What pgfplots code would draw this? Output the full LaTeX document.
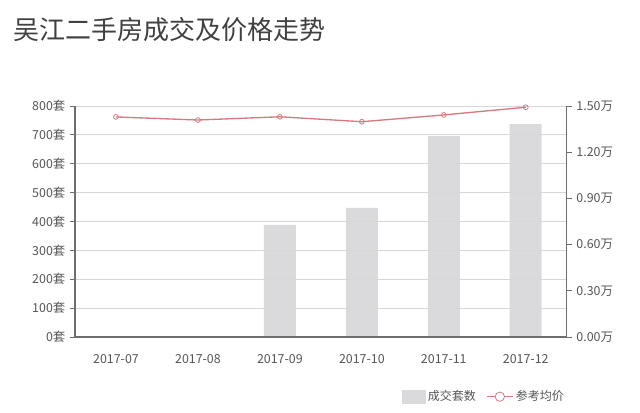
\documentclass[border=0pt]{standalone}
\usepackage{pgfplots}
\pgfplotsset{compat=1.18}
\usepackage{fontspec}
\setmainfont{Noto Sans CJK SC}
\definecolor{bargrey}{RGB}{218,217,219}
\definecolor{linered}{RGB}{214,122,130}
\definecolor{axisgrey}{RGB}{110,110,110}
\definecolor{labelgrey}{RGB}{85,85,85}
\definecolor{gridgrey}{RGB}{215,215,215}
\pgfplotsset{
    every axis/.append style={
        scale only axis,
        width=368.8pt,
        height=173.25pt,
        xmin=-0.5, xmax=5.5,
        axis line style={draw=axisgrey, line width=0.9pt},
        tick style={axisgrey, line width=0.7pt},
        tick align=outside,
        major tick length=3.75pt,
        tick label style={font=\fontsize{9.3}{10}\selectfont, text=labelgrey},
        /pgf/number format/assume math mode=true,
    },
}

\begin{document}
\begin{tikzpicture}
    \useasboundingbox (0,0) rectangle (480pt,309pt);
    \node[anchor=west, text=black!75, font=\fontsize{19.5}{21}\selectfont, inner sep=0pt]
        at (10pt,286.5pt) {吴江二手房成交及价格走势};
    % bars, left axis
    \begin{axis}[
        at={(56.25pt,56.25pt)}, anchor=south west,
        axis y line*=left,
        axis x line*=bottom,
        ymin=0, ymax=800,
        ytick={0,100,...,800},
        yticklabel={\pgfmathprintnumber{\tick}套},
        ymajorgrids,
        grid style={gridgrey, line width=0.6pt},
        xtick={0,...,5},
        xticklabels={2017-07,2017-08,2017-09,2017-10,2017-11,2017-12},
        x tick style={draw=none},
        xticklabel style={yshift=-6pt},
        extra x ticks={-0.5,0.5,...,5.5},
        extra x tick labels={},
        extra x tick style={tick style={draw=axisgrey}},
        axis on top,
        after end axis/.code={
            \draw[axisgrey, line width=1.4pt] (rel axis cs:0,0) -- (rel axis cs:0,1);
        },
    ]
        \addplot[ybar, bar width=24pt, fill=bargrey, draw=none] coordinates {
            (0,0) (1,0) (2,388) (3,447) (4,696) (5,737)
        };
    \end{axis}
    % average price, right axis
    \begin{axis}[
        at={(56.25pt,56.25pt)}, anchor=south west,
        axis x line=none,
        axis y line*=right,
        ymin=0, ymax=1.5,
        ytick={0,0.3,...,1.5},
        yticklabel={\pgfmathprintnumber[fixed,fixed zerofill,precision=2]{\tick}万},
        legend columns=2,
        legend style={
            at={(1,0)}, anchor=north east, yshift=-36pt, xshift=3pt,
            draw=none, fill=none,
            font=\fontsize{9}{10}\selectfont, text=labelgrey,
            /tikz/every even column/.append style={column sep=6pt},
        },
    ]
        \addlegendimage{legend image code/.code={
            \fill[bargrey] (0pt,-4.8pt) rectangle (17pt,4.8pt);}}
        \addlegendentry{成交套数}
        \addlegendimage{legend image code/.code={
            \draw[linered, line width=0.9pt] (0pt,0pt) -- (19pt,0pt);
            \draw[linered, line width=0.6pt, fill=white] (9.5pt,0pt) circle (3.5pt);}}
        \addlegendentry{参考均价}
        \addplot[linered, line width=1pt, mark=o, mark size=1.8pt,
            mark options={fill=white, line width=0.6pt}, forget plot] coordinates {
            (0,1.429) (1,1.409) (2,1.430) (3,1.398) (4,1.442) (5,1.492)
        };
    \end{axis}
\end{tikzpicture}
\end{document}
